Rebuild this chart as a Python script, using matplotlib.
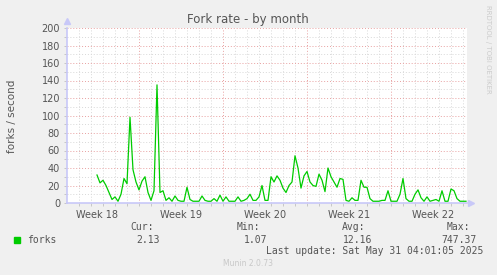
import numpy as np
import matplotlib.pyplot as plt
from matplotlib.patches import Rectangle

title = "Fork rate - by month"
ylabel = "forks / second"

# time axis in days from the left edge of the graph
x_span = 400 / 12
week_starts = [6, 13, 20, 27]
week_labels = ["Week 18", "Week 19", "Week 20", "Week 21", "Week 22"]

# one sample every 6 hours, starting 2.5 days in
start_day = 2.5
step_day = 0.25
forks = [
    32, 23, 26, 20, 12, 4, 7, 2, 10, 28, 22, 98, 38, 24, 15, 25, 30, 12, 3, 14,
    135, 12, 14, 3, 6, 2, 8, 3, 2, 2, 18, 4, 2, 2, 2, 8, 3, 2, 2, 5,
    2, 9, 2, 7, 2, 2, 2, 7, 2, 3, 5, 10, 3, 3, 7, 20, 3, 3, 30, 24,
    31, 26, 17, 12, 20, 24, 54, 40, 17, 31, 36, 24, 20, 19, 33, 26, 13, 40, 30, 24,
    18, 28, 27, 3, 2, 6, 3, 3, 26, 18, 18, 5, 2, 2, 2, 3, 3, 14, 2, 2,
    2, 10, 28, 5, 2, 2, 10, 15, 6, 2, 7, 2, 3, 4, 2, 14, 2, 2, 16, 14,
    5, 2, 2, 2,
]

series_name = "forks"
stat_names = ["Cur:", "Min:", "Avg:", "Max:"]
stat_values = ["2.13", "1.07", "12.16", "747.37"]
last_update = "Last update: Sat May 31 04:01:05 2025"
footer = "Munin 2.0.73"

W, H = 497, 275
def fx(x):
    return x / W
def fy(y):
    return 1 - y / H

days = start_day + step_day * np.arange(len(forks))

fig = plt.figure(figsize=(W / 100, H / 100), dpi=100, facecolor="#f0f0f0")
ax = fig.add_axes([fx(67), fy(203), 400 / W, 175 / H], facecolor="white")

# grid: gray minor, red major
for d in range(1, int(x_span) + 1):
    if d in week_starts:
        continue
    ax.axvline(d, color="#d8d8d8", lw=0.7, ls=(0, (1, 2)), zorder=1)
for d in week_starts:
    ax.axvline(d, color="#e8a0a0", lw=0.7, ls=(0, (1, 2)), zorder=1)
for v in range(10, 200, 20):
    ax.axhline(v, color="#d8d8d8", lw=0.7, ls=(0, (1, 2)), zorder=1)
for v in range(20, 201, 20):
    ax.axhline(v, color="#e8a0a0", lw=0.7, ls=(0, (1, 2)), zorder=1)

ax.plot(days, forks, color="#00cc00", lw=0.9, zorder=3)

ax.set_xlim(0, x_span)
ax.set_ylim(0, 200)

for s in ["top", "right"]:
    ax.spines[s].set_visible(False)
for s in ["left", "bottom"]:
    ax.spines[s].set_color("#c8c8f8")
    ax.spines[s].set_linewidth(1.2)
ax.plot([0], [1.04], marker="^", color="#c8c8f8", ms=4, transform=ax.transAxes, clip_on=False)
ax.plot([1.01], [0], marker=">", color="#c8c8f8", ms=4, transform=ax.transAxes, clip_on=False)

ax.set_yticks(range(0, 201, 20))
ax.set_yticks(range(10, 200, 20), minor=True)
ax.set_xticks([w - 3.5 for w in week_starts] + [week_starts[-1] + 3.5])
ax.set_xticklabels(week_labels)
ax.set_xticks(range(1, int(x_span) + 1), minor=True)
ax.tick_params(axis="both", which="both", length=2, width=0.6, color="#c0c0c0",
               labelsize=7, labelcolor="#555555", pad=3)
ax.tick_params(axis="x", which="major", length=0, pad=5)

fig.text(fx(248), fy(19), title, ha="center", va="center", fontsize=8.5, color="#555555")
fig.text(fx(12), fy(116), ylabel, rotation=90, ha="center", va="center", fontsize=7.5, color="#555555")
fig.text(fx(488), fy(5), "RRDTOOL / TOBI OETIKER", rotation=270, ha="center", va="top",
         fontsize=5, color="#cccccc")

mono = "DejaVu Sans Mono"
fig.patches.append(Rectangle((fx(14), fy(243)), 6 / W, 6 / H, color="#00cc00",
                             transform=fig.transFigure, figure=fig))
fig.text(fx(27), fy(240), series_name, ha="left", va="center", fontsize=7, family=mono, color="#555555")
head_right = [154, 260, 365, 470]
val_right = [160, 267, 372, 477]
for name, val, hr, vr in zip(stat_names, stat_values, head_right, val_right):
    fig.text(fx(hr), fy(227.5), name, ha="right", va="center", fontsize=7, family=mono, color="#555555")
    fig.text(fx(vr), fy(240), val, ha="right", va="center", fontsize=7, family=mono, color="#555555")
fig.text(fx(483), fy(251.5), last_update, ha="right", va="center", fontsize=7, family=mono, color="#555555")
fig.text(fx(248), fy(264), footer, ha="center", va="center", fontsize=5.5, color="#c8c8c8")

fig.savefig("out.png", dpi=100, facecolor=fig.get_facecolor())
